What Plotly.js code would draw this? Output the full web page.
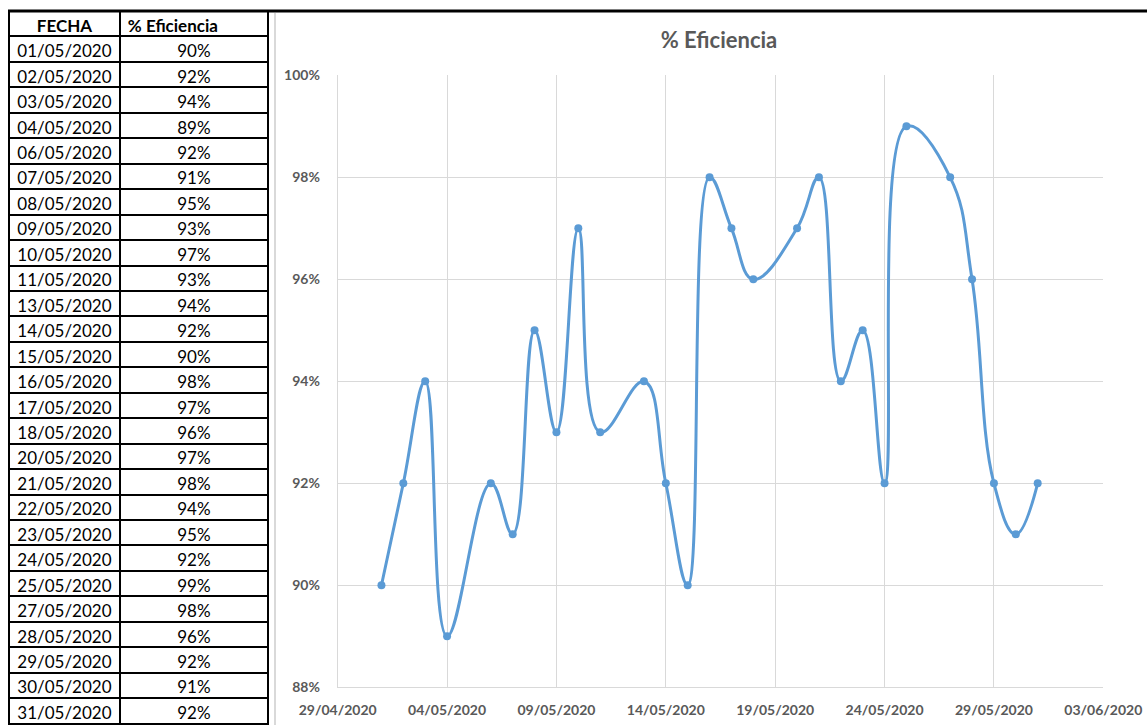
<!DOCTYPE html>
<html>
<head>
<meta charset="utf-8">
<script src="https://cdn.plot.ly/plotly-3.0.1.min.js"></script>
<style>
html,body{margin:0;padding:0;background:#fff;}
#chart{width:1147px;height:725px;}
</style>
</head>
<body>
<div id="chart"></div>
<script>
const fechas = ['01/05/2020','02/05/2020','03/05/2020','04/05/2020','06/05/2020','07/05/2020','08/05/2020','09/05/2020','10/05/2020','11/05/2020','13/05/2020','14/05/2020','15/05/2020','16/05/2020','17/05/2020','18/05/2020','20/05/2020','21/05/2020','22/05/2020','23/05/2020','24/05/2020','25/05/2020','27/05/2020','28/05/2020','29/05/2020','30/05/2020','31/05/2020'];
const eficiencia = [0.90,0.92,0.94,0.89,0.92,0.91,0.95,0.93,0.97,0.93,0.94,0.92,0.90,0.98,0.97,0.96,0.97,0.98,0.94,0.95,0.92,0.99,0.98,0.96,0.92,0.91,0.92];
const encabezados = ['FECHA','% Eficiencia'];
const titulo = '% Eficiencia';

const W = 1147, H = 725;
const isoFechas = fechas.map(f => { const p = f.split('/'); return p[2] + '-' + p[1] + '-' + p[0]; });
const pctTexto = eficiencia.map(v => Math.round(v * 100) + '%');

const FONT = 'Lato, "Open Sans", sans-serif';
const GRAY = '#595959';
const BLUE = '#5B9BD5';

const tabla = {
  type: 'table',
  domain: {x: [9 / W, 268 / W], y: [0, 1 - 11 / H]},
  columnwidth: [110, 147],
  header: {
    values: encabezados,
    align: ['center', 'left'],
    height: 25.45,
    line: {color: '#000', width: 2},
    fill: {color: '#fff'},
    font: {family: FONT, size: 17, color: '#000', weight: 'bold'}
  },
  cells: {
    values: [fechas, pctTexto],
    align: ['center', 'center'],
    height: 25.45,
    line: {color: '#000', width: 2},
    fill: {color: '#fff'},
    font: {family: FONT, size: 17, color: '#000'}
  }
};

const serie = {
  type: 'scatter',
  mode: 'lines+markers',
  x: isoFechas,
  y: eficiencia,
  line: {color: BLUE, width: 3, shape: 'spline', smoothing: 1.2},
  marker: {color: BLUE, size: 8},
  hoverinfo: 'x+y'
};

const layout = {
  width: W, height: H,
  margin: {l: 0, r: 0, t: 0, b: 0},
  paper_bgcolor: '#fff',
  plot_bgcolor: '#fff',
  showlegend: false,
  title: {
    text: titulo,
    x: 719 / W, xref: 'paper', xanchor: 'center',
    y: 1 - 40 / H, yref: 'paper', yanchor: 'middle',
    font: {family: FONT, size: 22, color: GRAY, weight: 'bold'}
  },
  xaxis: {
    domain: [337.7 / W, 1103.3 / W],
    type: 'date',
    range: ['2020-04-29', '2020-06-03'],
    tick0: '2020-04-29',
    dtick: 5 * 86400000,
    tickformat: '%d/%m/%Y',
    showgrid: true, gridcolor: '#d9d9d9', gridwidth: 1,
    showline: true, linecolor: '#d9d9d9', linewidth: 1,
    zeroline: false,
    ticks: '',
    ticklabelstandoff: 10,
    tickfont: {family: FONT, size: 14, color: GRAY, weight: 'bold'}
  },
  yaxis: {
    domain: [37.7 / H, 1 - 75.3 / H],
    range: [0.88, 1.00],
    tick0: 0.88, dtick: 0.02,
    tickformat: '.0%',
    showgrid: true, gridcolor: '#d9d9d9', gridwidth: 1,
    showline: true, linecolor: '#d9d9d9', linewidth: 1,
    zeroline: false,
    ticks: '',
    ticklabelstandoff: 14,
    tickfont: {family: FONT, size: 14, color: GRAY, weight: 'bold'}
  },
  shapes: [
    {type: 'line', xref: 'paper', yref: 'paper', x0: 8 / W, x1: 1, y0: 1 - 11 / H, y1: 1 - 11 / H, line: {color: '#000', width: 3}},
    {type: 'line', xref: 'paper', yref: 'paper', x0: 275 / W, x1: 275 / W, y0: 0, y1: 1 - 13 / H, line: {color: '#d9d9d9', width: 2}}
  ]
};

Plotly.newPlot('chart', [tabla, serie], layout, {displayModeBar: false, staticPlot: true});
</script>
</body>
</html>
